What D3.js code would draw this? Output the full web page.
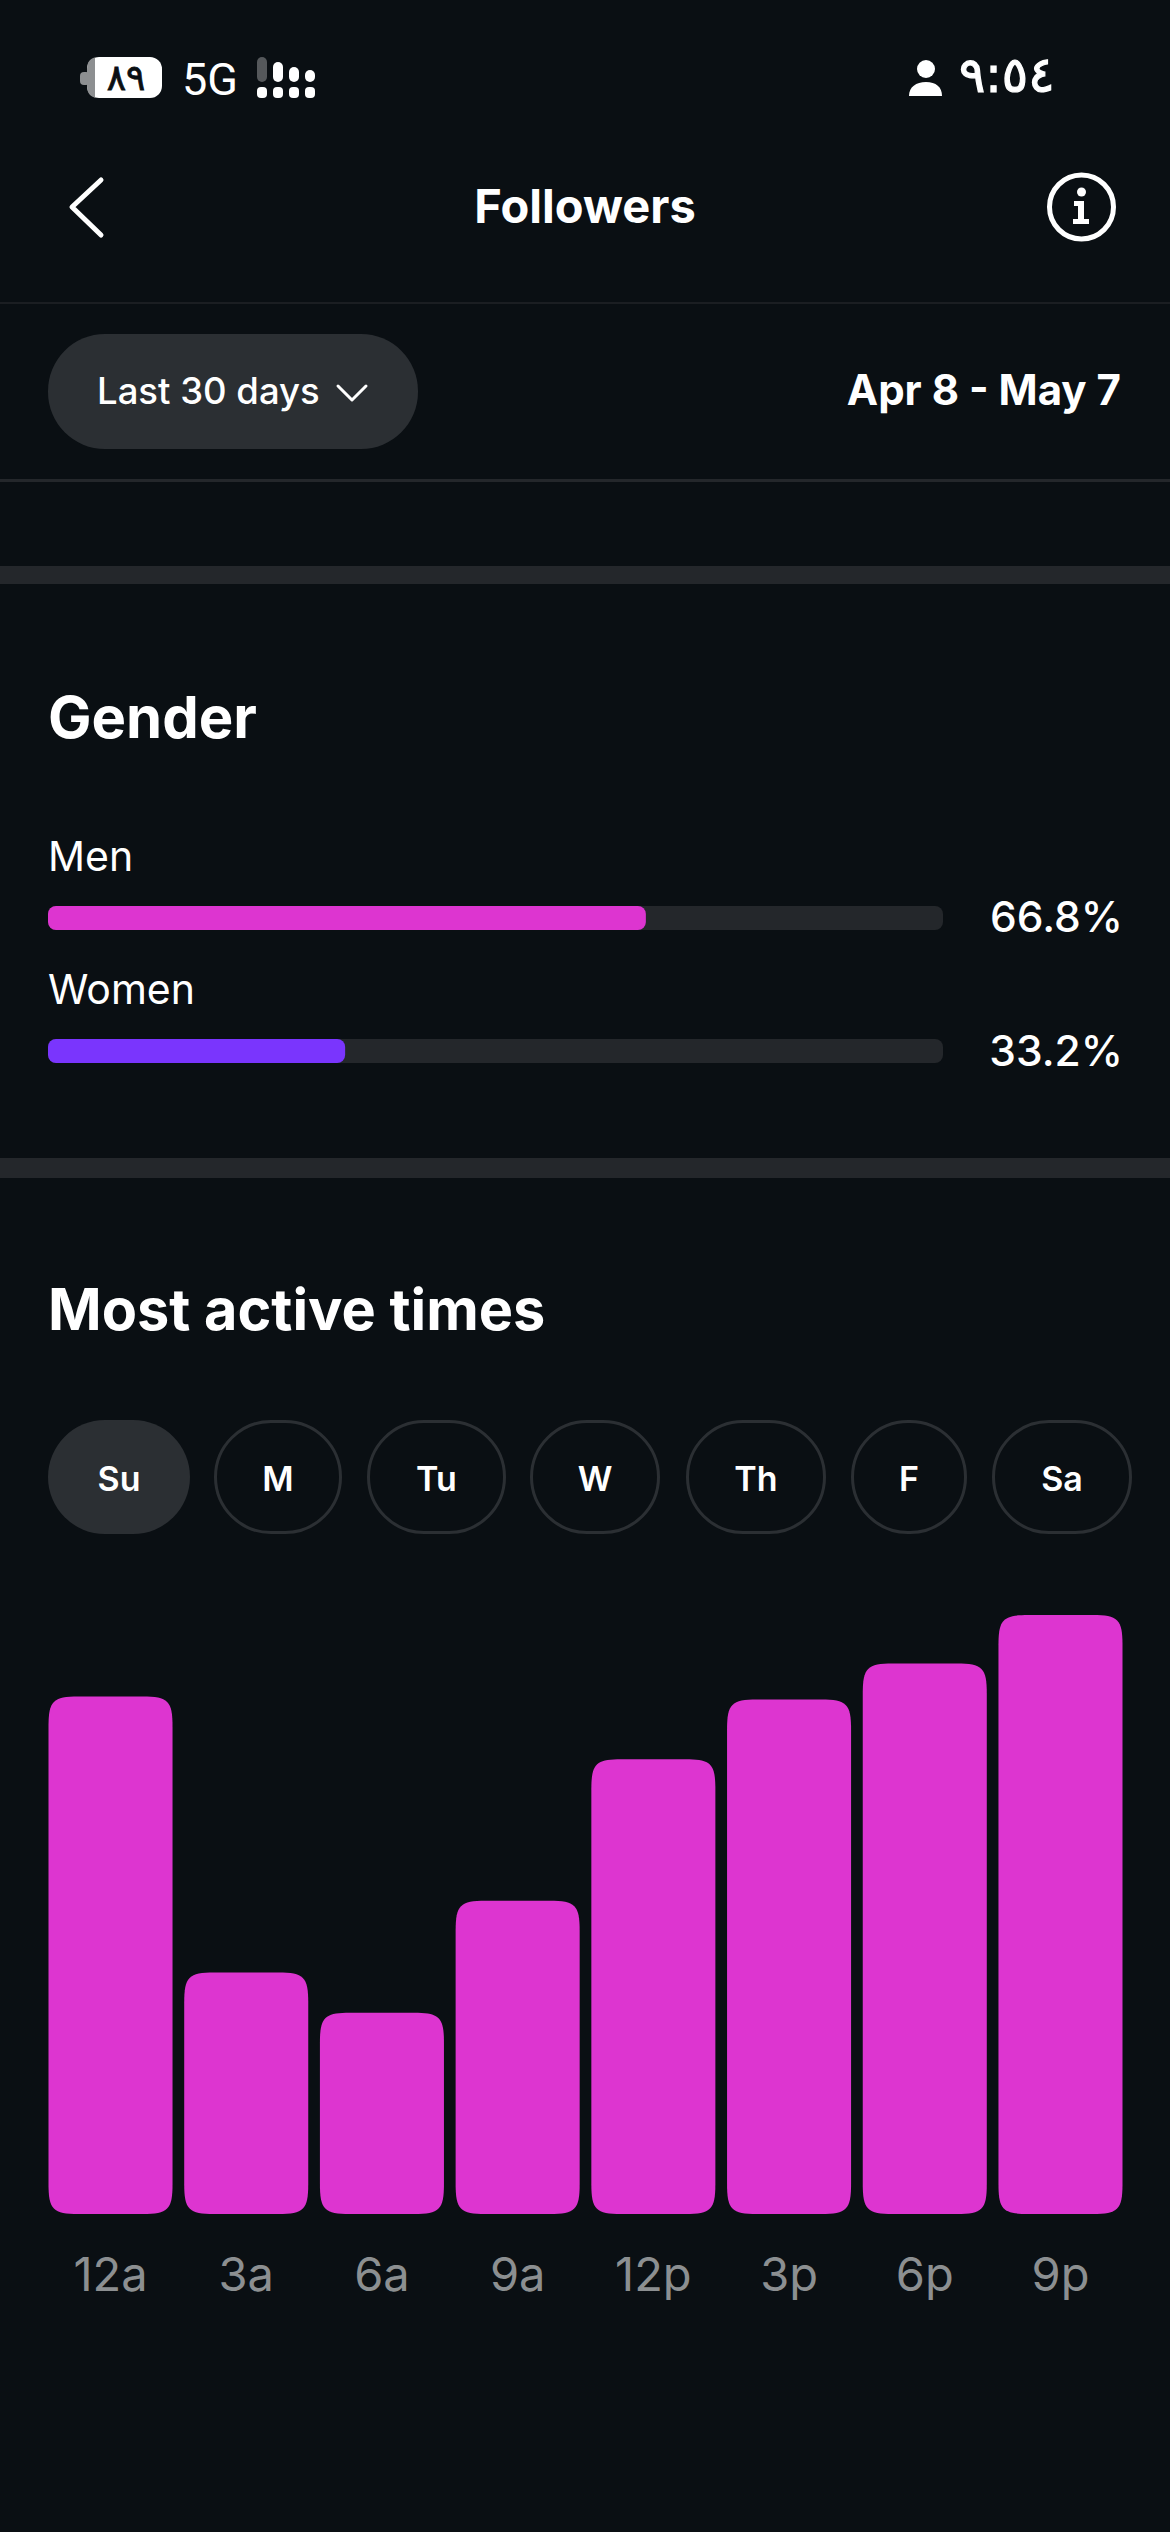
<!DOCTYPE html>
<html>
<head>
<meta charset="utf-8">
<script src="https://cdn.jsdelivr.net/npm/d3@7"></script>
<style>
html,body{margin:0;padding:0;background:#0a0f13;}
svg{display:block;}
text{font-family:Inter,"Noto Sans",sans-serif;fill:#fff;}
</style>
</head>
<body>
<div id="chart"></div>
<script>
// Data
const genderLabels = ["Men", "Women"];
const genderValues = [66.8, 33.2];
const dayLabels = ["Su", "M", "Tu", "W", "Th", "F", "Sa"];
const timeLabels = ["12a", "3a", "6a", "9a", "12p", "3p", "6p", "9p"];
const activityValues = [86.4, 40.3, 33.6, 52.3, 75.9, 85.9, 91.9, 100];

// Layout & style
const W = 1170, H = 2532;
const BG = "#0a0f13", PINK = "#dd35d0", PURPLE = "#7a35fd", TRACK = "#24272b", PILL = "#2b2f33";
const dayPillSpans = [[48,190],[214,342],[367,506],[530,660],[686,826],[851,967],[992,1132]];
const svg = d3.select("#chart").append("svg").attr("width", W).attr("height", H).attr("viewBox", `0 0 ${W} ${H}`);
svg.append("rect").attr("width", W).attr("height", H).attr("fill", BG);

const txt = (s, x, y, size, weight, anchor = "start", fill = "#fff", family = null) => {
  const t = svg.append("text").attr("x", x).attr("y", y).attr("font-size", size)
    .attr("font-weight", weight).attr("text-anchor", anchor).style("fill", fill).text(s);
  if (family) t.style("font-family", family);
  return t;
};

// Status bar
svg.append("rect").attr("x", 80).attr("y", 72).attr("width", 10).attr("height", 13).attr("rx", 4).attr("fill", "#8d8f91");
svg.append("rect").attr("x", 87).attr("y", 57).attr("width", 75).attr("height", 41).attr("rx", 12).attr("fill", "#fff");
svg.append("path").attr("d", "M99,57 H95 V98 H99 Q87,98 87,86 V69 Q87,57 99,57 Z").attr("fill", "#8d8f91");
txt("٨٩", 126, 90, 36, 400, "middle", "#0a0f13", '"DejaVu Sans"').attr("direction", "ltr")
  .style("stroke", "#0a0f13").style("stroke-width", 0.8);
txt("5G", 182, 95, 45, 400, "start", "#fff", "Roboto");
const sigCols = [262, 278, 294, 310], sigTops = [57, 62, 67, 70];
sigCols.forEach((cx, i) => {
  svg.append("rect").attr("x", cx - 5).attr("y", sigTops[i]).attr("width", 10).attr("height", 82 - sigTops[i]).attr("rx", 5).attr("fill", i === 0 ? "#55585b" : "#fff");
  svg.append("rect").attr("x", cx - 5).attr("y", 87).attr("width", 10).attr("height", 11).attr("rx", 4).attr("fill", "#fff");
});
svg.append("circle").attr("cx", 926).attr("cy", 69).attr("r", 9).attr("fill", "#fff");
svg.append("path").attr("d", "M909,96 C909,87 916,82 926,82 C936,82 942,87 942,96 Z").attr("fill", "#fff");
txt("٩:٥٤", 959, 92, 49, 400, "start", "#fff", '"DejaVu Sans"').attr("direction", "ltr")
  .style("stroke", "#fff").style("stroke-width", 1.2);

// Header
svg.append("path").attr("d", "M101,180 L72,207 L101,235")
  .attr("fill", "none").attr("stroke", "#fff").attr("stroke-width", 5).attr("stroke-linecap", "round").attr("stroke-linejoin", "round");
txt("Followers", 585, 223, 47, 700, "middle");
svg.append("circle").attr("cx", 1081.5).attr("cy", 207).attr("r", 32).attr("fill", "none").attr("stroke", "#fff").attr("stroke-width", 5);
svg.append("circle").attr("cx", 1081.5).attr("cy", 192).attr("r", 4.5).attr("fill", "#fff");
svg.append("path").attr("d", "M1074,201 H1084 V219 H1089 V224 H1073 V219 H1078 V206 H1074 Z").attr("fill", "#fff");
svg.append("rect").attr("x", 0).attr("y", 302).attr("width", W).attr("height", 2).attr("fill", "#1b1e22");

// Filter row
svg.append("rect").attr("x", 48).attr("y", 334).attr("width", 370).attr("height", 115).attr("rx", 57).attr("fill", PILL);
txt("Last 30 days", 97, 404, 36.5, 500);
svg.append("path").attr("d", "M338,386 L352,400 L366,386").attr("fill", "none").attr("stroke", "#fff").attr("stroke-width", 3).attr("stroke-linecap", "round").attr("stroke-linejoin", "round");
txt("Apr 8 - May 7", 1121, 405, 42, 700, "end");
svg.append("rect").attr("x", 0).attr("y", 479).attr("width", W).attr("height", 3).attr("fill", "#24272b");
svg.append("rect").attr("x", 0).attr("y", 566).attr("width", W).attr("height", 18).attr("fill", TRACK);

// Gender
txt("Gender", 48, 738, 58, 700);
const gx = d3.scaleLinear().domain([0, 100]).range([48, 943]);
const genderRows = [{ label: 871, top: 906, val: 932, color: PINK }, { label: 1004, top: 1039, val: 1066, color: PURPLE }];
genderLabels.forEach((name, i) => {
  const r = genderRows[i];
  txt(name, 48, r.label, 41, 400);
  svg.append("rect").attr("x", gx(0)).attr("y", r.top).attr("width", gx(100) - gx(0)).attr("height", 24).attr("rx", 8).attr("fill", TRACK);
  svg.append("rect").attr("x", gx(0)).attr("y", r.top).attr("width", gx(genderValues[i]) - gx(0)).attr("height", 24).attr("rx", 8).attr("fill", r.color);
  txt(genderValues[i].toFixed(1) + "%", 1123, r.val, 42.5, 500, "end");
});
svg.append("rect").attr("x", 0).attr("y", 1158).attr("width", W).attr("height", 20).attr("fill", TRACK);

// Most active times
txt("Most active times", 48, 1330, 57.6, 700);
dayLabels.forEach((d, i) => {
  const [a, b] = dayPillSpans[i];
  const sel = i === 0;
  svg.append("rect").attr("x", sel ? a : a + 1.5).attr("y", sel ? 1420 : 1421.5)
    .attr("width", sel ? b - a : b - a - 3).attr("height", sel ? 114 : 111).attr("rx", sel ? 57 : 55.5)
    .attr("fill", sel ? PILL : "none").attr("stroke", sel ? "none" : PILL).attr("stroke-width", 3);
  txt(d, (a + b) / 2, 1491, 34, 600, "middle");
});

// Bars
const x = d3.scaleBand().domain(timeLabels).range([48.5, 1122.5]).paddingInner(0.086).paddingOuter(0);
const y = d3.scaleLinear().domain([0, 100]).range([2214, 1615]);
const barPath = (px, top, w, bottom, r) => {
  const k = 0.15 * r;
  return `M${px},${top + r} C${px},${top + k} ${px + k},${top} ${px + r},${top}
    H${px + w - r} C${px + w - k},${top} ${px + w},${top + k} ${px + w},${top + r}
    V${bottom - r} C${px + w},${bottom - k} ${px + w - k},${bottom} ${px + w - r},${bottom}
    H${px + r} C${px + k},${bottom} ${px},${bottom - k} ${px},${bottom - r} Z`;
};
svg.append("g").selectAll("path").data(activityValues).join("path")
  .attr("d", (v, i) => barPath(x(timeLabels[i]), y(v), x.bandwidth(), y(0), 30))
  .attr("fill", PINK);

const axis = svg.append("g").attr("transform", "translate(0,2214)")
  .call(d3.axisBottom(x).tickSize(0).tickPadding(44));
axis.select(".domain").remove();
axis.selectAll("text").attr("font-size", 47).attr("font-weight", 400).style("fill", "#8c8f91").style("font-family", 'Inter,"Noto Sans",sans-serif');
</script>
</body>
</html>
